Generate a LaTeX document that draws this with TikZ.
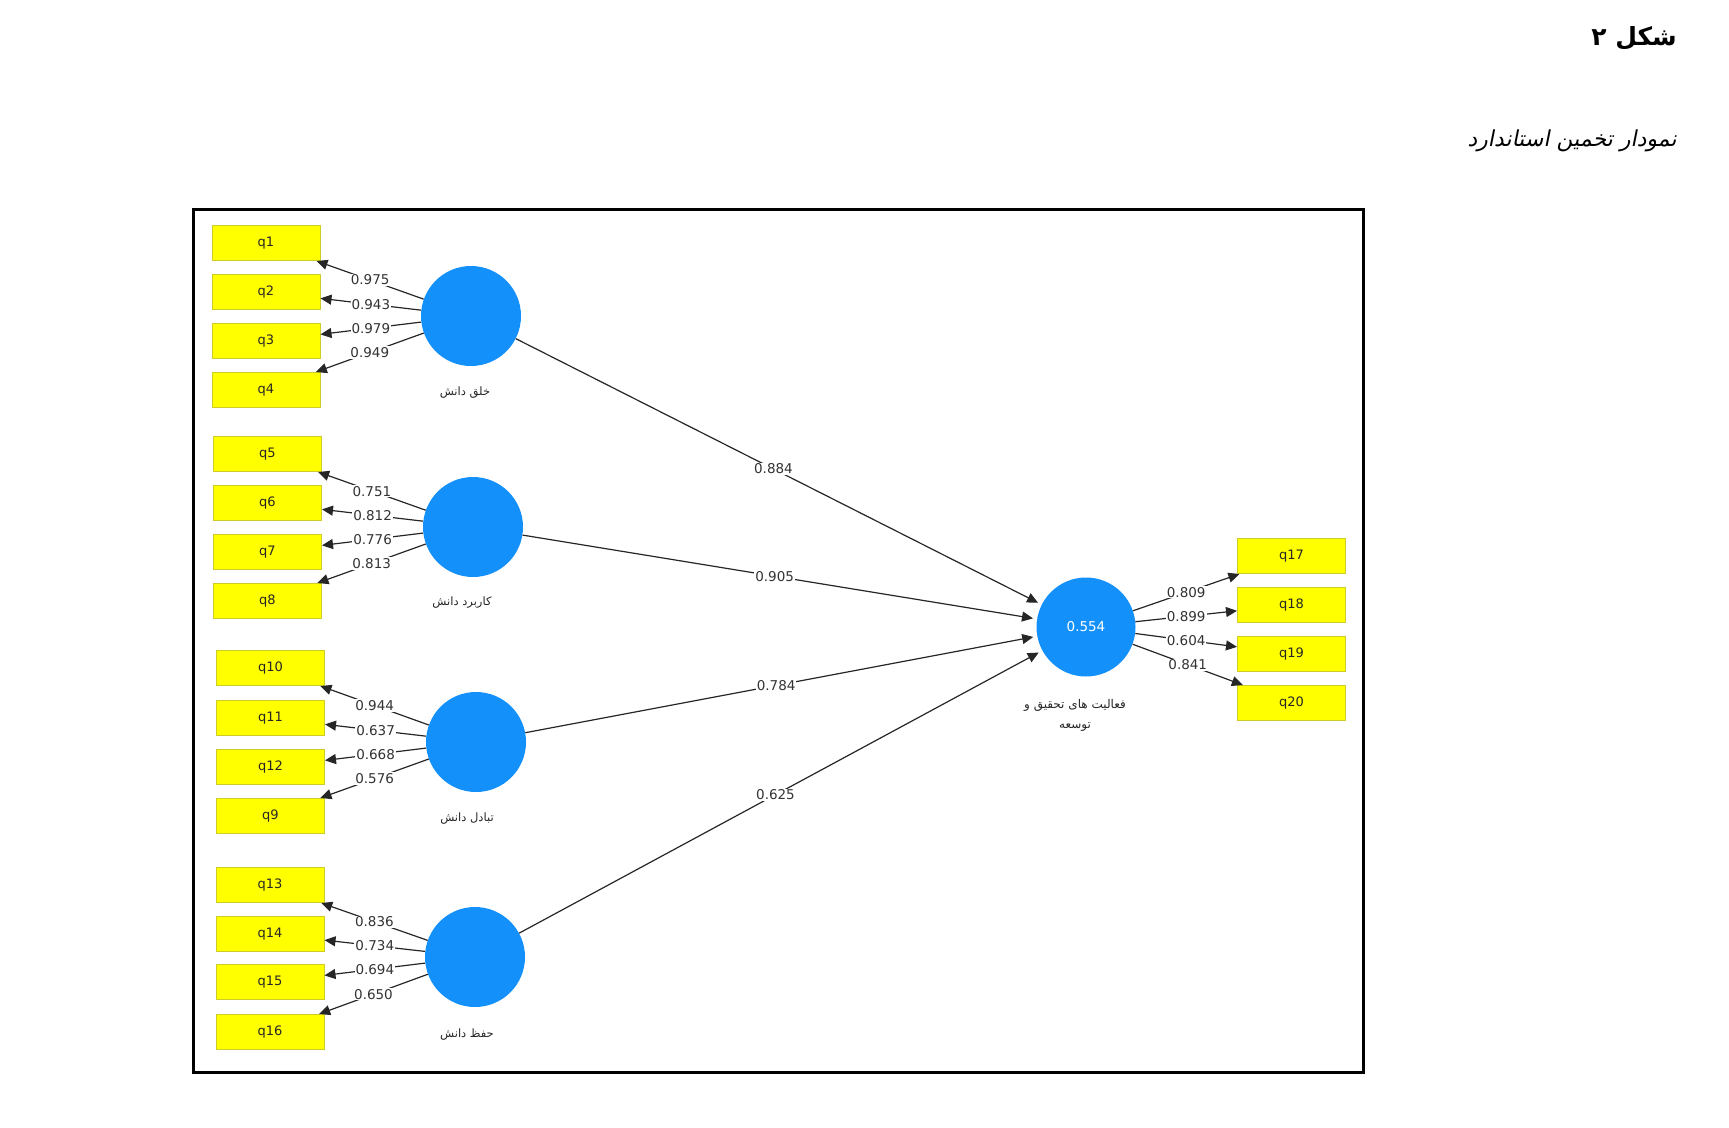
\documentclass[tikz,border=0pt]{standalone}
\usepackage{fontspec}
\setmainfont{DejaVu Sans}
\newfontfamily\arabicfont[Script=Arabic]{DejaVu Sans}
\newfontfamily\arabicit[Script=Arabic,FakeSlant=0.2]{DejaVu Sans}
\TeXXeTstate=1
\usetikzlibrary{arrows.meta}
\definecolor{lvblue}{RGB}{20,144,250}
\definecolor{indyellow}{RGB}{255,255,0}
\definecolor{indborder}{RGB}{205,205,40}
\begin{document}
\begin{tikzpicture}[x=1pt,y=-1pt,
  ind/.style={draw=indborder, fill=indyellow, line width=1pt, minimum width=108pt, minimum height=35pt, inner sep=0pt, font=\fontsize{13}{15}\selectfont, text=black!85},
  lv/.style={circle, fill=lvblue, minimum size=100pt, inner sep=0pt},
  load/.style={draw=black!85, line width=1.2pt, -{Triangle[length=11pt,width=10pt]}},
  path/.style={draw=black!85, line width=1.2pt, -{Triangle[length=11pt,width=10pt]}, shorten >=4pt},
  val/.style={fill=white, inner sep=1pt, font=\fontsize{13.5}{15}\selectfont, text=black!80},
  lvlab/.style={font=\arabicfont\fontsize{11.5}{14}\selectfont, text=black!85, inner sep=1pt}]
\useasboundingbox (0,0) rectangle (1729,1127);
% title
\node[anchor=east, inner sep=0pt] (title) at (1677,38) {\arabicfont\bfseries\fontsize{25}{28}\selectfont\beginR شکل ۲\endR};
\node[anchor=east, inner sep=0pt] (subtitle) at (1677,141) {\arabicit\fontsize{22}{26}\selectfont\beginR نمودار تخمین استاندارد\endR};
% frame
\draw[line width=3pt] (193,209) rectangle (1363,1072);
% indicators
\foreach \n/\x/\y in {q1/266/243, q2/266/292, q3/266/341, q4/266/390,
  q5/267.5/454, q6/267.5/503, q7/267.5/552, q8/267.5/601,
  q10/270.5/668, q11/270.5/718, q12/270.5/767, q9/270.5/816,
  q13/270/885, q14/270/934, q15/270/982, q16/270/1032,
  q17/1291.5/556, q18/1291.5/605, q19/1291.5/654, q20/1291.5/703}
  \node[ind] (\n) at (\x,\y) {\n};
% latent variables
\node[lv] (c1) at (471,316) {};
\node[lv] (c2) at (473,527) {};
\node[lv] (c3) at (476,742) {};
\node[lv] (c4) at (475,957) {};
\node[lv, minimum size=99pt, text=white, font=\fontsize{13.5}{15}\selectfont] (t) at (1086,627) {0.554};
% latent labels
\node[lvlab] (c1lab) at (465,393) {\beginR خلق دانش\endR};
\node[lvlab] (c2lab) at (462,603) {\beginR کاربرد دانش\endR};
\node[lvlab] (c3lab) at (467,819) {\beginR تبادل دانش\endR};
\node[lvlab] (c4lab) at (467,1035) {\beginR حفظ دانش\endR};
\node[lvlab, align=center, font=\arabicfont\fontsize{12}{20}\selectfont] (tlab) at (1075,715) {\beginR فعالیت های تحقیق و\endR\\\beginR توسعه\endR};
% loadings
\foreach \q/\v in {q1/0.975, q2/0.943, q3/0.979, q4/0.949}
  \draw[load] (c1) -- node[val]{\v} (\q);
\foreach \q/\v in {q5/0.751, q6/0.812, q7/0.776, q8/0.813}
  \draw[load] (c2) -- node[val]{\v} (\q);
\foreach \q/\v in {q10/0.944, q11/0.637, q12/0.668, q9/0.576}
  \draw[load] (c3) -- node[val]{\v} (\q);
\foreach \q/\v in {q13/0.836, q14/0.734, q15/0.694, q16/0.650}
  \draw[load] (c4) -- node[val]{\v} (\q);
\foreach \q/\v in {q17/0.809, q18/0.899, q19/0.604, q20/0.841}
  \draw[load] (t) -- node[val]{\v} (\q);
% paths
\draw[path] (c1) -- node[val, pos=0.49]{0.884} (t);
\draw[path] (c2) -- node[val, pos=0.49]{0.905} (t);
\draw[path] (c3) -- node[val, pos=0.49]{0.784} (t);
\draw[path] (c4) -- node[val, pos=0.49]{0.625} (t);
\end{tikzpicture}
\end{document}
